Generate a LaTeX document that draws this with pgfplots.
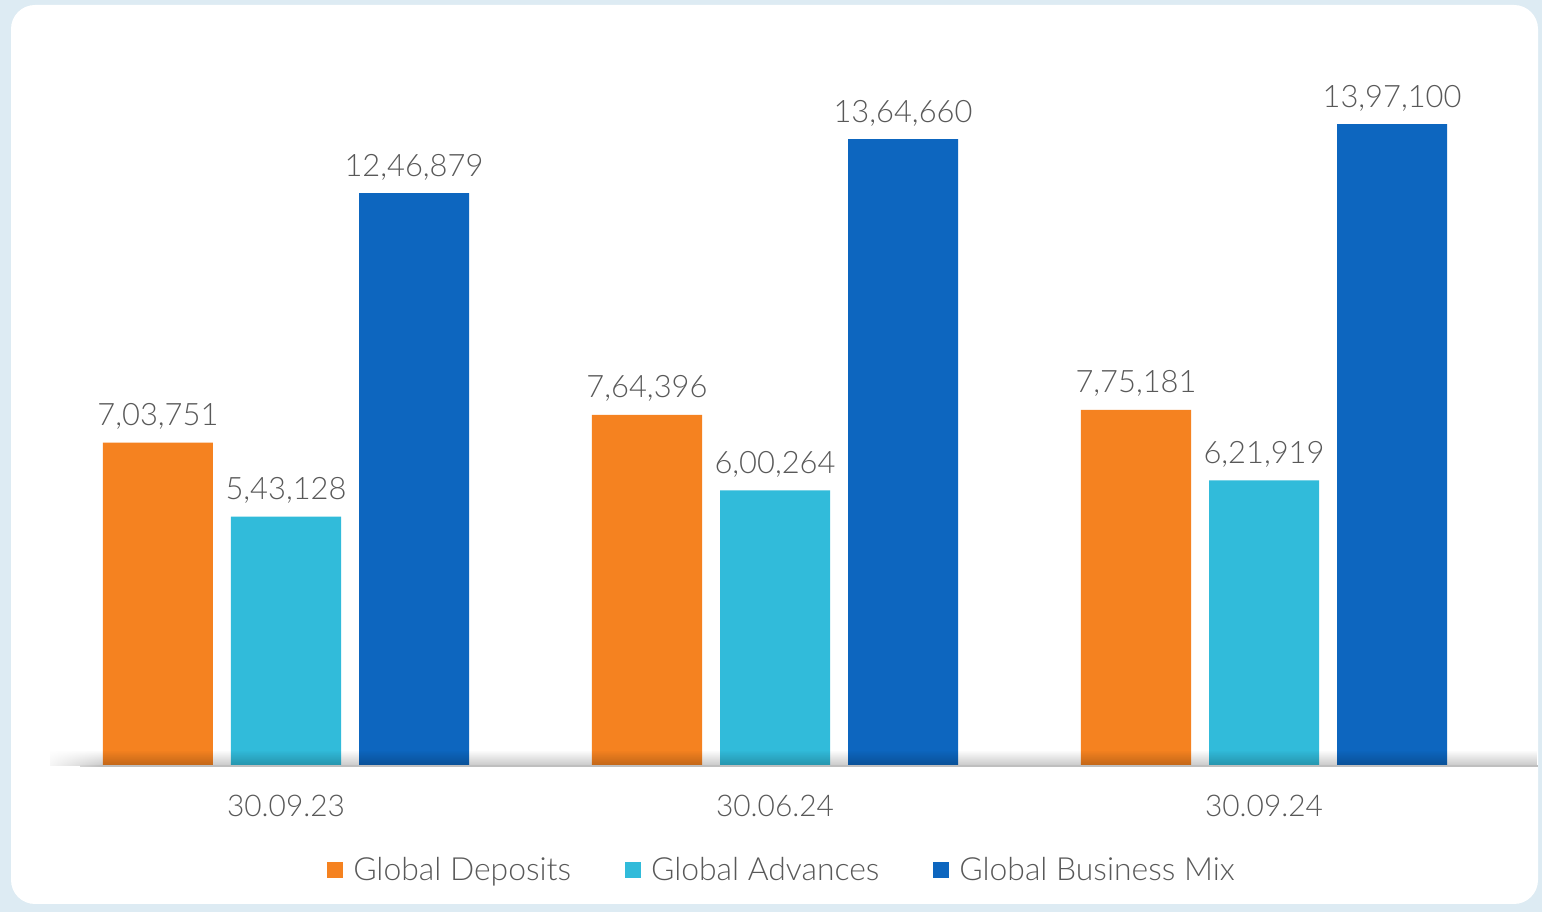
\documentclass[border=0pt]{standalone}
\usepackage{fontspec}
\setmainfont{Lato Light}
\usepackage{pgfplots}
\pgfplotsset{compat=1.18}
\usetikzlibrary{fadings}

\definecolor{bgblue}{HTML}{DDEBF3}
\definecolor{txtgray}{HTML}{595959}
\definecolor{dep}{HTML}{F58220}
\definecolor{adv}{HTML}{31BBDA}
\definecolor{mix}{HTML}{0D66BF}

\begin{document}
\begin{tikzpicture}[x=1bp,y=1bp]
  % 1 px of the reference = 0.5bp
  \useasboundingbox (0,0) rectangle (771,456);
  \fill[bgblue] (0,0) rectangle (771,456);
  \fill[white, rounded corners=12bp] (5.5,4) rectangle (769,453.5);

  \begin{axis}[
      at={(20.75bp,73bp)}, anchor=south west,
      scale only axis,
      width=733.5bp, height=344.5bp,
      xmin=-0.5, xmax=2.5,
      ymin=0, ymax=1500000,
      axis line style={draw=none},
      major tick length=0pt,
      ytick=\empty,
      xtick={0,1,2},
      xticklabels={30.09.23, 30.06.24, 30.09.24},
      xticklabel style={font=\fontsize{15}{18}\selectfont, text=txtgray, yshift=-11bp},
      ybar, bar width=0.225,
      point meta=explicit symbolic,
      nodes near coords={\pgfplotspointmeta},
      every node near coord/.append style={font=\fontsize{15.5}{18}\selectfont, text=txtgray, yshift=3bp},
      legend style={at={(0.5,-0.12)}, anchor=north, xshift=4bp, draw=none, fill=none,
        legend columns=-1, font=\fontsize{16}{18}\selectfont, text=txtgray,
        /tikz/every even column/.append style={column sep=25bp},
        /tikz/every odd column/.append style={column sep=3bp}},
      legend image code/.code={\fill[#1] (0bp,-4bp) rectangle (8bp,4bp);},
    ]
    \addplot[draw=none, fill=dep, bar shift=-0.2618] coordinates {
      (0,703751) [7,03,751]
      (1,764396) [7,64,396]
      (2,775181) [7,75,181]
    };
    \addplot[draw=none, fill=adv, bar shift=0] coordinates {
      (0,543128) [5,43,128]
      (1,600264) [6,00,264]
      (2,621919) [6,21,919]
    };
    \addplot[draw=none, fill=mix, bar shift=0.2618] coordinates {
      (0,1246879) [12,46,879]
      (1,1364660) [13,64,660]
      (2,1397100) [13,97,100]
    };
    \legend{Global Deposits, Global Advances, Global Business Mix}
  \end{axis}

  % floor shadow along the baseline, fading out to the left
  \fill[black, opacity=0.22, path fading=north] (25,73) rectangle (769,81);
  \draw[black!25, line width=0.6bp] (40,73) -- (769,73);
  \fill[white, path fading=east] (20,72) rectangle (51,82);
\end{tikzpicture}
\end{document}
